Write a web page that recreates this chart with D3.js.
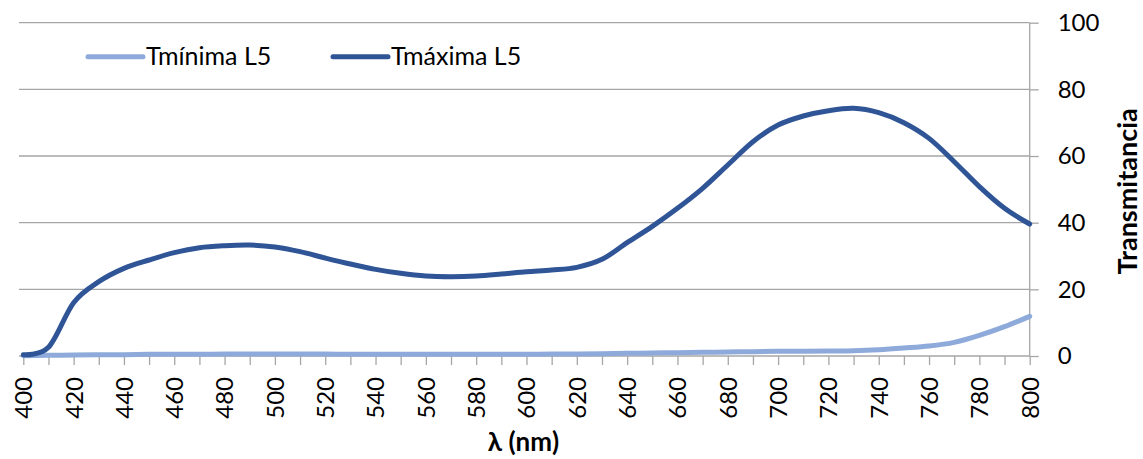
<!DOCTYPE html>
<html>
<head>
<meta charset="utf-8">
<script src="https://cdn.jsdelivr.net/npm/d3@7"></script>
<style>
  html, body { margin: 0; padding: 0; background: #fff; }
  svg { display: block; font-family: Lato, "Open Sans", sans-serif; }
</style>
</head>
<body>
<svg id="chart" width="1143" height="459"></svg>
<script>
// Wavelength (nm) sampled every 10 nm
const wavelengths = d3.range(400, 801, 10);

// Transmittance (%) – minimum and maximum curves for sample L5
const tMin = [0.1, 0.2, 0.3, 0.4, 0.4, 0.5, 0.5, 0.5, 0.6, 0.6,
              0.6, 0.6, 0.6, 0.5, 0.5, 0.5, 0.5, 0.5, 0.5, 0.5,
              0.5, 0.6, 0.6, 0.7, 0.8, 0.9, 1.0, 1.1, 1.2, 1.3,
              1.4, 1.4, 1.5, 1.6, 1.9, 2.4, 3.0, 4.1, 6.2, 8.8, 11.9];
const tMax = [0.4, 2.6, 16.0, 22.3, 26.3, 28.8, 31.0, 32.5, 33.1, 33.3,
              32.7, 31.3, 29.4, 27.6, 26.0, 24.8, 24.0, 23.8, 24.0, 24.6,
              25.3, 25.8, 26.6, 29.0, 34.0, 38.9, 44.3, 50.3, 57.3, 64.3,
              69.3, 72.0, 73.6, 74.3, 73.0, 70.0, 65.3, 58.3, 50.8, 44.3, 39.6];

const seriesNames = ["Tmínima L5", "Tmáxima L5"];
const seriesColors = ["#8eaadb", "#2f5597"];
const yTicks = [0, 20, 40, 60, 80, 100];
const xLabelTicks = d3.range(400, 801, 20);

const svg = d3.select("#chart");
const plotLeft = 23.3, plotRight = 1029.7, plotTop = 22.7, plotBottom = 356;
const gridColor = "#a6a6a6";

const x = d3.scaleLinear().domain([400, 800]).range([plotLeft, plotRight]);
const y = d3.scaleLinear().domain([0, 100]).range([plotBottom, plotTop]);

// Horizontal gridlines
svg.append("g").selectAll("line").data(yTicks.filter(d => d > 0)).join("line")
  .attr("x1", 19).attr("x2", plotRight)
  .attr("y1", d => y(d)).attr("y2", d => y(d))
  .attr("stroke", gridColor).attr("stroke-width", 1.3);

// Right value axis
const yAxis = d3.axisRight(y).tickValues(yTicks).tickSize(9).tickPadding(19);
const gy = svg.append("g").attr("transform", `translate(${plotRight},0)`).call(yAxis);
gy.select(".domain").attr("stroke", gridColor).attr("stroke-width", 1.3)
  .attr("d", `M0,${y(0)}V${y(100)}`);
gy.selectAll(".tick line").attr("stroke", gridColor).attr("stroke-width", 1.3);
gy.selectAll(".tick text").attr("font-size", 24).attr("fill", "#000")
  .attr("font-family", "Lato, sans-serif");

// Bottom wavelength axis: ticks every 10 nm, labels every 20 nm
const xAxis = d3.axisBottom(x).tickValues(wavelengths).tickSize(9)
  .tickFormat(d => (xLabelTicks.includes(d) ? d : ""));
const gx = svg.append("g").attr("transform", `translate(0,${plotBottom})`).call(xAxis);
gx.select(".domain").attr("stroke", gridColor).attr("stroke-width", 1.3)
  .attr("d", `M19,0H${plotRight}`);
gx.selectAll(".tick line").attr("stroke", gridColor).attr("stroke-width", 1.3);
gx.selectAll(".tick text")
  .attr("font-size", 24).attr("fill", "#000").attr("font-family", "Lato, sans-serif")
  .attr("transform", "rotate(-90)")
  .attr("text-anchor", "end")
  .attr("x", -21).attr("y", 0).attr("dy", "0.35em");

// Smoothed curves
const line = d3.line()
  .x((d, i) => x(wavelengths[i]))
  .y(d => y(d))
  .curve(d3.curveCatmullRom.alpha(0));

[tMin, tMax].forEach((vals, k) => {
  svg.append("path").datum(vals)
    .attr("d", line)
    .attr("fill", "none")
    .attr("stroke", seriesColors[k])
    .attr("stroke-width", 5)
    .attr("stroke-linecap", "round")
    .attr("stroke-linejoin", "round");
});

// Legend
const legendX = [88, 333];
seriesNames.forEach((name, k) => {
  const g = svg.append("g").attr("transform", `translate(${legendX[k]},56.7)`);
  g.append("line").attr("x1", 0).attr("x2", 55)
    .attr("stroke", seriesColors[k]).attr("stroke-width", 5).attr("stroke-linecap", "round");
  g.append("text").attr("x", 58).attr("y", 0).attr("dy", "0.35em")
    .attr("font-size", 25).attr("fill", "#000").text(name);
});

// Axis titles
svg.append("text")
  .attr("x", (plotLeft + plotRight) / 2 - 3).attr("y", 451)
  .attr("text-anchor", "middle").attr("font-size", 26).attr("font-weight", "bold")
  .attr("fill", "#000").text("λ (nm)");

svg.append("text")
  .attr("transform", `translate(1137,${(plotTop + plotBottom) / 2 + 2}) rotate(-90)`)
  .attr("text-anchor", "middle").attr("font-size", 27).attr("font-weight", "bold")
  .attr("fill", "#000").text("Transmitancia");
</script>
</body>
</html>
